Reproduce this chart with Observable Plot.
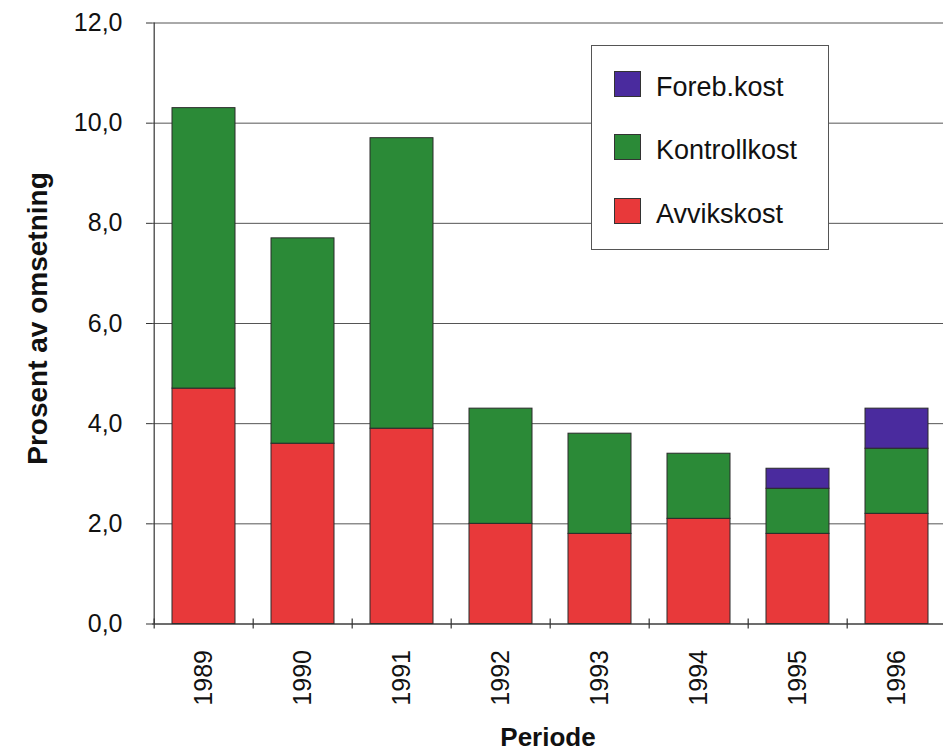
<!DOCTYPE html>
<html>
<head>
<meta charset="utf-8">
<script src="https://cdn.jsdelivr.net/npm/d3@7"></script>
<script src="https://cdn.jsdelivr.net/npm/@observablehq/plot@0.6"></script>
<style>
  body { margin: 0; background: #fff; font-family: "Liberation Sans", Arial, sans-serif; }
  #wrap { position: relative; width: 943px; height: 755px; overflow: hidden; }
  #legend { position: absolute; left: 591px; top: 45px; width: 236px; height: 203px;
            border: 1px solid #555; background: #fff; box-sizing: content-box; }
  .row { position: absolute; left: 22px; display: flex; align-items: center; }
  .sw { width: 27px; height: 26px; border: 1px solid #333; box-sizing: border-box; }
  .lab { font-size: 27px; margin-left: 15px; color: #111; position: relative; top: 4px; }
</style>
</head>
<body>
<div id="wrap"></div>
<script>
// ---- data ----
const years = ["1989", "1990", "1991", "1992", "1993", "1994", "1995", "1996"];
const avvikskost   = [4.7, 3.6, 3.9, 2.0, 1.8, 2.1, 1.8, 2.2];
const kontrollkost = [5.6, 4.1, 5.8, 2.3, 2.0, 1.3, 0.9, 1.3];
const forebkost    = [0.0, 0.0, 0.0, 0.0, 0.0, 0.0, 0.4, 0.8];
const seriesNames  = ["Avvikskost", "Kontrollkost", "Foreb.kost"];
const seriesColors = ["#e8393a", "#2b8a37", "#4a2b9e"];
const yTicks = [0, 2, 4, 6, 8, 10, 12];
const yLabel = "Prosent av omsetning";
const xLabel = "Periode";

// ---- table for the library ----
const seriesValues = [avvikskost, kontrollkost, forebkost];
const table = [];
seriesNames.forEach((s, si) => {
  years.forEach((yr, i) => {
    if (seriesValues[si][i] > 0) table.push({ year: yr, series: s, value: seriesValues[si][i] });
  });
});

const W = 943, H = 755;
const mL = 152, mT = 22.5, mB = 131.5;
const xRange = [mL, 949];
const step = (xRange[1] - xRange[0]) / years.length;
const fmt = d => d.toFixed(1).replace(".", ",");

const chart = Plot.plot({
  width: W,
  height: H,
  marginLeft: mL,
  marginRight: 0,
  marginTop: mT,
  marginBottom: mB,
  style: { fontFamily: "'Liberation Sans', Arial, sans-serif", color: "#111", background: "#fff" },
  x: { domain: years, range: xRange, paddingInner: 0.36, paddingOuter: 0.18 },
  y: { domain: [0, 12] },
  color: { domain: seriesNames, range: seriesColors },
  marks: [
    Plot.gridY(yTicks, { stroke: "#555", strokeOpacity: 1, strokeWidth: 1 }),
    Plot.barY(table, { x: "year", y: "value", fill: "series", stroke: "#2a2a2a", strokeWidth: 1 }),
    Plot.ruleY([0], { stroke: "#333", strokeWidth: 1.2 }),
    // y axis line (left edge of the first band)
    Plot.ruleX([years[0]], { y1: 0, y2: 12, dx: -step / 2, stroke: "#333", strokeWidth: 1.2 }),
    // category boundary ticks on the x axis
    Plot.ruleX(years, { y1: 0, y2: 0, dx: -step / 2, insetTop: -5, insetBottom: -5, stroke: "#333", strokeWidth: 1.2 }),
    Plot.axisY({ ticks: yTicks, tickFormat: fmt, tickSize: 6, tickPadding: 24, fontSize: 25, label: null, stroke: "#333" }),
    Plot.axisX({ tickSize: 0, tickRotate: -90, tickPadding: 26, fontSize: 25, label: null }),
    Plot.text([yLabel], { text: d => d, frameAnchor: "left", textAnchor: "middle", rotate: -90, dx: -114, dy: -5,
                          fontSize: 28, fontWeight: "bold", fill: "#111" }),
    Plot.text([xLabel], { text: d => d, frameAnchor: "bottom", dy: 114, lineAnchor: "middle",
                          fontSize: 26, fontWeight: "bold", fill: "#111" })
  ]
});

const wrap = document.getElementById("wrap");
wrap.appendChild(chart);

// ---- legend (top to bottom: Foreb, Kontroll, Avviks) ----
const legend = document.createElement("div");
legend.id = "legend";
const rowTops = [22, 85, 149];
[2, 1, 0].forEach((si, k) => {
  const row = document.createElement("div");
  row.className = "row";
  row.style.top = rowTops[k] + "px";
  const sw = document.createElement("div");
  sw.className = "sw";
  sw.style.background = seriesColors[si];
  const lab = document.createElement("span");
  lab.className = "lab";
  lab.textContent = seriesNames[si];
  row.appendChild(sw);
  row.appendChild(lab);
  legend.appendChild(row);
});
wrap.appendChild(legend);
</script>
</body>
</html>
